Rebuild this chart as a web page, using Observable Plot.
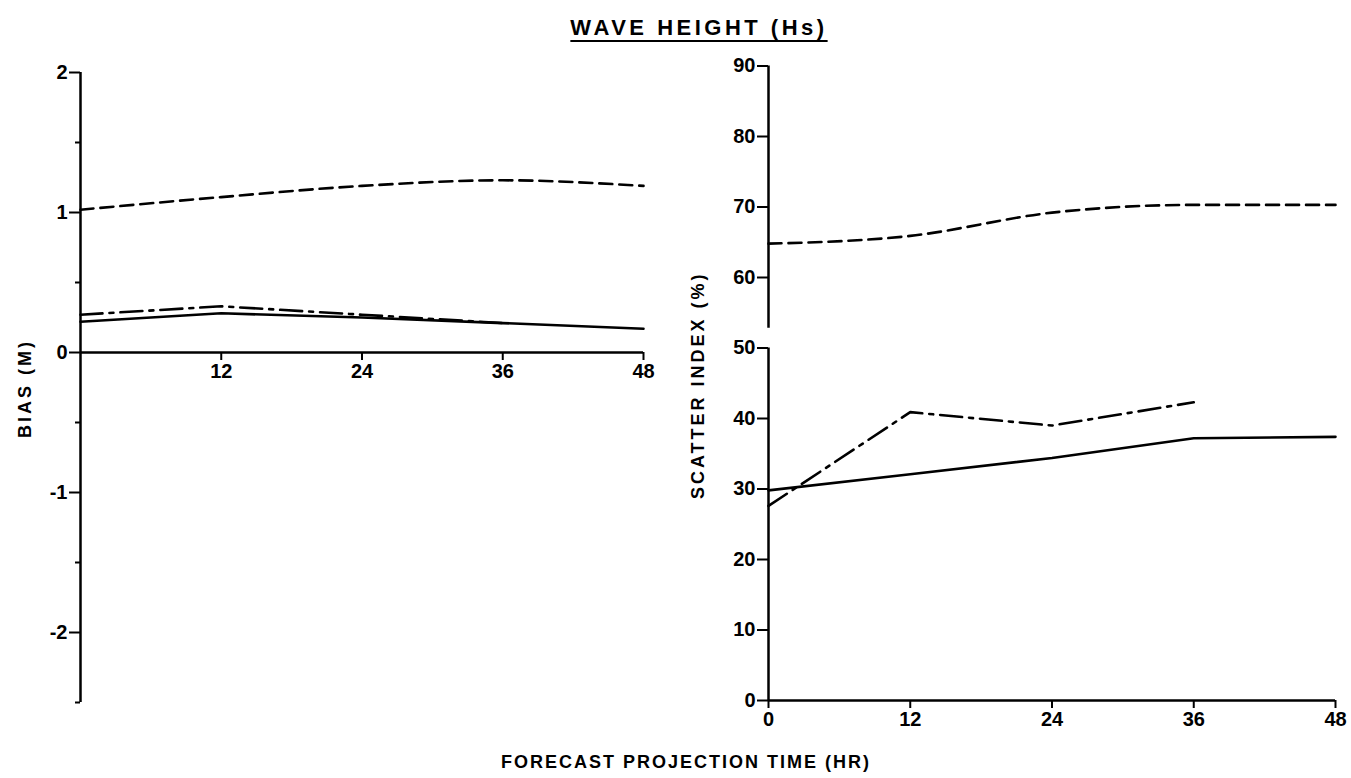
<!DOCTYPE html>
<html><head><meta charset="utf-8">
<script src="https://cdn.jsdelivr.net/npm/d3@7"></script>
<script src="https://cdn.jsdelivr.net/npm/@observablehq/plot@0.6"></script>
<style>
html,body{margin:0;padding:0;background:#fff;}
#chart{position:relative;width:1351px;height:778px;background:#fff;overflow:hidden;font-family:"Liberation Sans",Arial,sans-serif;font-weight:bold;color:#000;}
#chart svg{position:absolute;left:0;top:0;}
.title{position:absolute;left:0;width:1398px;top:15px;text-align:center;font-size:22px;letter-spacing:3.5px;}
.title span{text-decoration:underline;text-decoration-thickness:2px;text-underline-offset:5px;}
.xlab{position:absolute;left:0;width:1372px;top:752px;text-align:center;font-size:18px;letter-spacing:2px;}
</style></head>
<body><div id="chart"><div class="title"><span>WAVE HEIGHT (Hs)</span></div><div class="xlab">FORECAST PROJECTION TIME (HR)</div></div>
<script>
// ---- data ----
const hours = [0, 12, 24, 36, 48];
const hoursDashDot = [0, 12, 24, 36];
const biasDashed = [1.02, 1.11, 1.19, 1.23, 1.19];
const biasSolid = [0.22, 0.28, 0.25, 0.21, 0.17];
const biasDashDot = [0.27, 0.33, 0.27, 0.21];
const siDashed = [64.8, 65.9, 69.2, 70.3, 70.3];
const siSolid = [29.8, 32.1, 34.4, 37.2, 37.4];
const siDashDot = [27.6, 40.9, 39.0, 42.3];
const biasTicks = [2, 1, 0, -1, -2];
const biasMinorTicks = [1.5, 0.5, -0.5, -1.5, -2.5];
const biasXTicks = [12, 24, 36, 48];
const siTicks = [0, 10, 20, 30, 40, 50, 60, 70, 80, 90];
const siXTicks = [0, 12, 24, 36, 48];
const siAxisSegments = [[0, 50], [52.8, 90]];
const biasLabel = "BIAS (M)";
const siLabel = "SCATTER INDEX (%)";

// ---- chart ----
const W = 1351, H = 778;
const pts = (xs, ys) => xs.map((h, i) => ({h, v: ys[i]}));
const style = {fontFamily: "Liberation Sans, Arial, sans-serif", fontWeight: "bold", fontSize: "19px", background: "transparent", color: "#000", overflow: "visible"};
const SW = 2.6, DASH = "13,7", DASHDOT = "22,7,4,7", FS = 20;

const left = Plot.plot({
  width: W, height: H, style,
  marginLeft: 80, marginRight: W - 643, marginTop: 72, marginBottom: H - 702,
  x: {domain: [0, 48], axis: null},
  y: {domain: [-2.5, 2]},
  marks: [
    Plot.ruleX([0], {strokeWidth: 2.5}),
    Plot.ruleY([0], {strokeWidth: 2.5}),
    Plot.axisY({ticks: biasTicks, tickSize: 11, tickPadding: 2, strokeWidth: 2, label: null, fontSize: FS,
      tickFormat: d => d < 0 ? "-" + (-d) : String(d)}),
    Plot.axisY({ticks: biasMinorTicks, tickSize: 5, strokeWidth: 2, label: null, tickFormat: () => ""}),
    Plot.ruleX(biasXTicks, {x: d => d, y1: 0, y2: 0, insetBottom: -8, strokeWidth: 2}),
    Plot.text(biasXTicks, {x: d => d, y: 0, dy: 19, text: d => String(d), fontSize: FS}),
    Plot.text([biasLabel], {frameAnchor: "left", dx: -55, dy: 1, rotate: -90, text: d => d,
      textAnchor: "middle", fontSize: 18}),
    Plot.line(pts(hours, biasDashed), {x: "h", y: "v", strokeWidth: SW, strokeDasharray: DASH, curve: "monotone-x"}),
    Plot.line(pts(hours, biasSolid), {x: "h", y: "v", strokeWidth: SW}),
    Plot.line(pts(hoursDashDot, biasDashDot), {x: "h", y: "v", strokeWidth: SW, strokeDasharray: DASHDOT})
  ]
});

const right = Plot.plot({
  width: W, height: H, style,
  marginLeft: 768, marginRight: W - 1335, marginTop: 65.5, marginBottom: H - 700,
  x: {domain: [0, 48]},
  y: {domain: [0, 90]},
  marks: [
    Plot.ruleX(siAxisSegments, {x: () => 0, y1: d => d[0], y2: d => d[1], strokeWidth: 2.5}),
    Plot.ruleY([0], {strokeWidth: 2.5}),
    Plot.axisY({ticks: siTicks, tickSize: 11, tickPadding: 2, strokeWidth: 2, label: null, fontSize: FS}),
    Plot.axisX({ticks: siXTicks, tickSize: 8, tickPadding: 3, strokeWidth: 2, label: null, fontSize: FS}),
    Plot.text([siLabel], {frameAnchor: "left", dx: -70, dy: 2, rotate: -90, text: d => d,
      textAnchor: "middle", fontSize: 18}),
    Plot.line(pts(hours, siDashed), {x: "h", y: "v", strokeWidth: SW, strokeDasharray: DASH, curve: "monotone-x"}),
    Plot.line(pts(hours, siSolid), {x: "h", y: "v", strokeWidth: SW}),
    Plot.line(pts(hoursDashDot, siDashDot), {x: "h", y: "v", strokeWidth: SW, strokeDasharray: DASHDOT})
  ]
});

// letter spacing for the rotated axis titles
[left, right].forEach(svg => {
  d3.select(svg).selectAll("text")
    .filter(function () { return this.textContent === biasLabel || this.textContent === siLabel; })
    .style("letter-spacing", "3px");
});

const chart = document.getElementById("chart");
chart.appendChild(left);
chart.appendChild(right);
</script>
</body></html>
